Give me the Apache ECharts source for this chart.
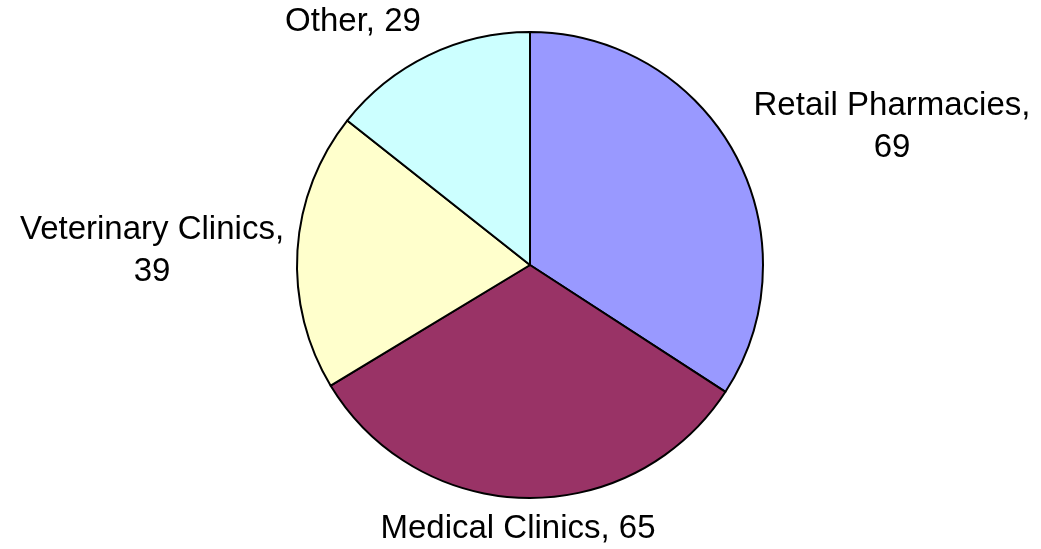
<!DOCTYPE html>
<html>
<head>
    <meta charset='utf-8'>
    <script src="https://cdn.jsdelivr.net/npm/echarts@6/dist/echarts.min.js"></script>
</head>
<body>
<style>
    html, body, #main {
        width: 100%;
        height: 100%;
        margin: 0;
        padding: 0;
        background: #fff;
    }
</style>
<div id="main"></div>
<script>
    var categories = ['Retail Pharmacies', 'Medical Clinics', 'Veterinary Clinics', 'Other'];
    var values = [69, 65, 39, 29];

    var colors = ['#9999FF', '#993366', '#FFFFCC', '#CCFFFF'];
    // where each label block sits (centre), in px
    var labelPos = [[892, 127], [518, 529], [152, 251], [353, 22]];
    var labelText = [
        '{name},\n{value}',
        '{name}, {value}',
        '{name},\n{value}',
        '{name}, {value}'
    ];

    var chart = echarts.init(document.getElementById('main'));

    var data = categories.map(function (name, i) {
        return {
            name: name,
            value: values[i],
            itemStyle: {color: colors[i]}
        };
    });

    chart.setOption({
        animation: false,
        series: [{
            type: 'pie',
            center: [530, 265],
            radius: 233,
            startAngle: 90,
            clockwise: true,
            data: data,
            itemStyle: {
                borderColor: '#000',
                borderWidth: 2
            },
            emphasis: {disabled: true},
            labelLine: {show: false},
            label: {
                position: 'outside',
                alignTo: 'none',
                overflow: 'none',
                color: '#000',
                fontFamily: 'Liberation Sans, Arial, sans-serif',
                fontSize: 33,
                lineHeight: 42,
                formatter: function (p) {
                    return labelText[p.dataIndex]
                        .replace('{name}', p.name)
                        .replace('{value}', p.value);
                }
            },
            labelLayout: function (p) {
                var pos = labelPos[p.dataIndex];
                return {
                    x: pos[0],
                    y: pos[1],
                    align: 'center',
                    verticalAlign: 'middle',
                    width: 400
                };
            }
        }]
    });
</script>
</body>
</html>
